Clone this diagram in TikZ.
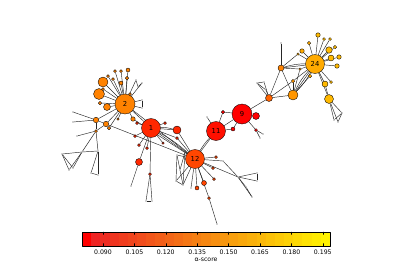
\documentclass[tikz,border=0pt]{standalone}
\usepackage{fontspec}
\setmainfont{DejaVu Sans}
\usetikzlibrary{backgrounds}
\definecolor{s0}{RGB}{255,0,0}
\definecolor{s1}{RGB}{255,15,0}
\definecolor{s2}{RGB}{255,40,0}
\definecolor{s3}{RGB}{255,70,0}
\definecolor{s4}{RGB}{255,100,0}
\definecolor{s5}{RGB}{255,130,0}
\definecolor{s6}{RGB}{255,150,0}
\definecolor{s7}{RGB}{255,170,0}
\definecolor{s8}{RGB}{255,185,0}
\tikzset{
  vx/.style={circle, draw=black, line width=.35pt, inner sep=0pt, font=\fontsize{6.8}{7}\selectfont},
  tip/.style={circle, fill=black!75, inner sep=0pt, minimum size=1.3pt},
  ed/.style={line width=.45pt, black!85},
  ticklbl/.style={font=\fontsize{6.2}{7}\selectfont},
}
\begin{document}
\begin{tikzpicture}[x=1pt, y=-1pt, line join=round, line cap=round]
\useasboundingbox (0,0) rectangle (415,274);
% hubs
\foreach \n/\x/\y/\s/\c in {2/125/104/20/s5, 1/151/128/19/s2, 12/195/159/19/s3,
  11/216/131/19/s1, 9/242/114/20/s0, 24/315/64/19/s7}
  \node[vx, minimum size=\s, fill=\c] (h\n) at (\x,\y) {\n};
% smaller vertices
\foreach \n/\x/\y/\s/\c in {
  a1/103/82/10/s5, a2/99/94/11/s5, a3/107/107/7/s5, a4/100/103/3.5/s5, a5/128/70/4/s5,
  a6/121/71/3/s5, a7/115/71/3/s5, a8/108/76/3/s5, a9/113/79/3/s5, a10/121/83/4/s5,
  a11/127/78/3.5/s5, a12/103/89/3/s5, a13/130/94/3/s5, a14/133/119/4.5/s5, a15/96/120/5.5/s5,
  a16/106/124/5.5/s5, a17/109/128/3.5/s5, a18/96/131/3/s5, a19/118/119/2.5/s5,
  b1/177/130/8/s2, b2/165/123/3/s2, b3/177/138/3/s2, b4/139/162/7/s2, b5/137/123/3/s2,
  b6/135/136/3/s2, b7/139/145/3/s2, b8/147/148/3/s2, b9/150/174/3/s2, b10/163/143/2.5/s2,
  c1/216/157/3/s3, c2/213/168/3/s3, c3/214/179/3/s3, c4/204/183/5/s3, c5/197/188/4/s3,
  c6/209/198/3/s3,
  d1/223/112/3.5/s0, d2/233/129/4/s0, d3/256/116/7/s0, d4/256/130/3/s0,
  e1/269/98/7/s4, e2/281/68/6/s5, e3/293/95/10/s6,
  f1/318/35/4.5/s8, f2/324/39/3/s8, f3/330/39/3/s8, f4/309/43/3.5/s7, f5/302/51/4.5/s7,
  f6/329/50/6.5/s8, f7/335/47/3.5/s8, f8/331/58/6/s8, f9/339/57/4.5/s8, f10/337/66/4.5/s8,
  f11/325/84/6/s8, f12/331/82/3/s8, f13/329/99/9/s8, f14/310/76/3.5/s7, f15/293/81/3.5/s6,
  f16/300/69/2.5/s6, f17/298/54/2.5/s7}
  \node[vx, minimum size=\s, fill=\c] (\n) at (\x,\y) {};
% loose ends
\foreach \n/\x/\y in {t1/73/112, t2/73/122, t3/77/136, t4/82/152, t5/62/154, t6/69/170,
  t7/73/168, t8/98/151, t9/91/173, t10/98/175, t11/136/80, t12/142/83, t13/138/87,
  t14/142/100, t15/142/108, t16/131/186, t17/146/201, t18/152/201, t19/191/188,
  t20/217/224, t21/223/161, t22/238/177, t23/257/173, t24/257/181, t25/252/197,
  t26/246/187, t27/260/138, t28/263/134, t29/257/83, t30/264/82, t31/266/90, t32/281/43,
  t33/334/120, t34/342/113, t35/338/122, t36/177/155, t37/185/152, t38/176/181,
  t39/183/185, t40/180/170, t41/207/117}
  \node[tip] (\n) at (\x,\y) {};
\begin{scope}[on background layer]
  \foreach \p/\q in {h2/a1, h2/a2, h2/a3, h2/a4, h2/a5, h2/a6, h2/a7, h2/a8, h2/a9, h2/a10,
    h2/a11, h2/a12, h2/a13, h2/a14, h2/a19, h2/a15, h2/a16, h2/a17, a2/a12, a15/a16,
    a16/a17, a15/a18, a16/a18, a15/t1, a15/t2, a18/t3, a18/t4, a18/t8, t4/t5, t4/t6, t4/t7,
    t4/t8, t5/t6, t5/t7, t8/t9, t8/t10, t9/t10, h2/t11, h2/t12, t11/t13, t12/t13, h2/t14,
    h2/t15, t14/t15, h2/h1, h2/h12, a14/h12, a16/h12,
    h1/b1, h1/b2, h1/b3, h1/b4, h1/b5, h1/b6, h1/b7, h1/b8, h1/b9, h1/b10, h1/h12, b1/h12,
    b3/h12, b4/t16, b9/t17, b9/t18, t17/t18,
    h12/h11, h12/c1, h12/c2, h12/c3, h12/c4, h12/c5, h12/c6, h12/t19, c6/t20, h12/t21,
    t21/t22, h12/t22, t22/t23, t22/t24, t23/t24, t22/t25, t22/t26, t25/t26, h12/t36,
    h12/t37, h12/t38, h12/t39, t36/t38, t37/t39, t36/t40, t40/t39, t37/t40, t38/t39,
    h11/h9, h11/d1, h11/d2, h11/t41, h9/d1, h9/d2, h9/d3, h9/d4, d4/t27, d4/t28, h9/e1,
    e1/t29, e1/t30, e1/t31, t29/t30, t29/t31, e1/e2, e1/e3, e2/e3, e2/t32, e2/h24,
    e3/h24, e3/f14, e3/f15, e3/f16, e1/f15, e2/f16, e2/f17,
    h24/f1, h24/f2, h24/f3, h24/f4, h24/f5, h24/f6, h24/f7, h24/f8, h24/f9, h24/f10,
    h24/f11, h24/f12, h24/f13, h24/f14, h24/f15, h24/f16, h24/f17, f11/f13, f13/t33,
    f13/t34, f13/t35, t33/t34, t34/t35}
    \draw[ed] (\p) -- (\q);
  % doubled links
  \draw[ed] (h1) to[bend left=8] (b1);
  \draw[ed] (h1) to[bend left=6] (h12) (h12) to[bend left=6] (h11);
  \draw[ed] (e3) to[bend left=8] (h24) (e3) to[bend right=8] (h24);
  \draw[ed] (e2) to[bend left=8] (h24);
\end{scope}
% colour bar
\foreach \i in {0,...,26}{
  \pgfmathsetmacro\g{100*\i/26}
  \fill[yellow!\g!red] ({82+\i*248/27},232) rectangle ({82+(\i+1)*248/27+.3},246);
}
\draw[line width=.5pt] (82,232) rectangle (330,246);
\foreach \v [count=\k from 0] in {0.090,0.105,0.120,0.135,0.150,0.165,0.180,0.195}{
  \draw[line width=.4pt] (103+31.4*\k,232) -- ++(0,2.5) (103+31.4*\k,246) -- ++(0,-2.5);
  \node[ticklbl] (tk\k) at (103+31.4*\k,252.5) {\v};
}
\node[ticklbl] (cblabel) at (206,260) {α-score};
\end{tikzpicture}
\end{document}
